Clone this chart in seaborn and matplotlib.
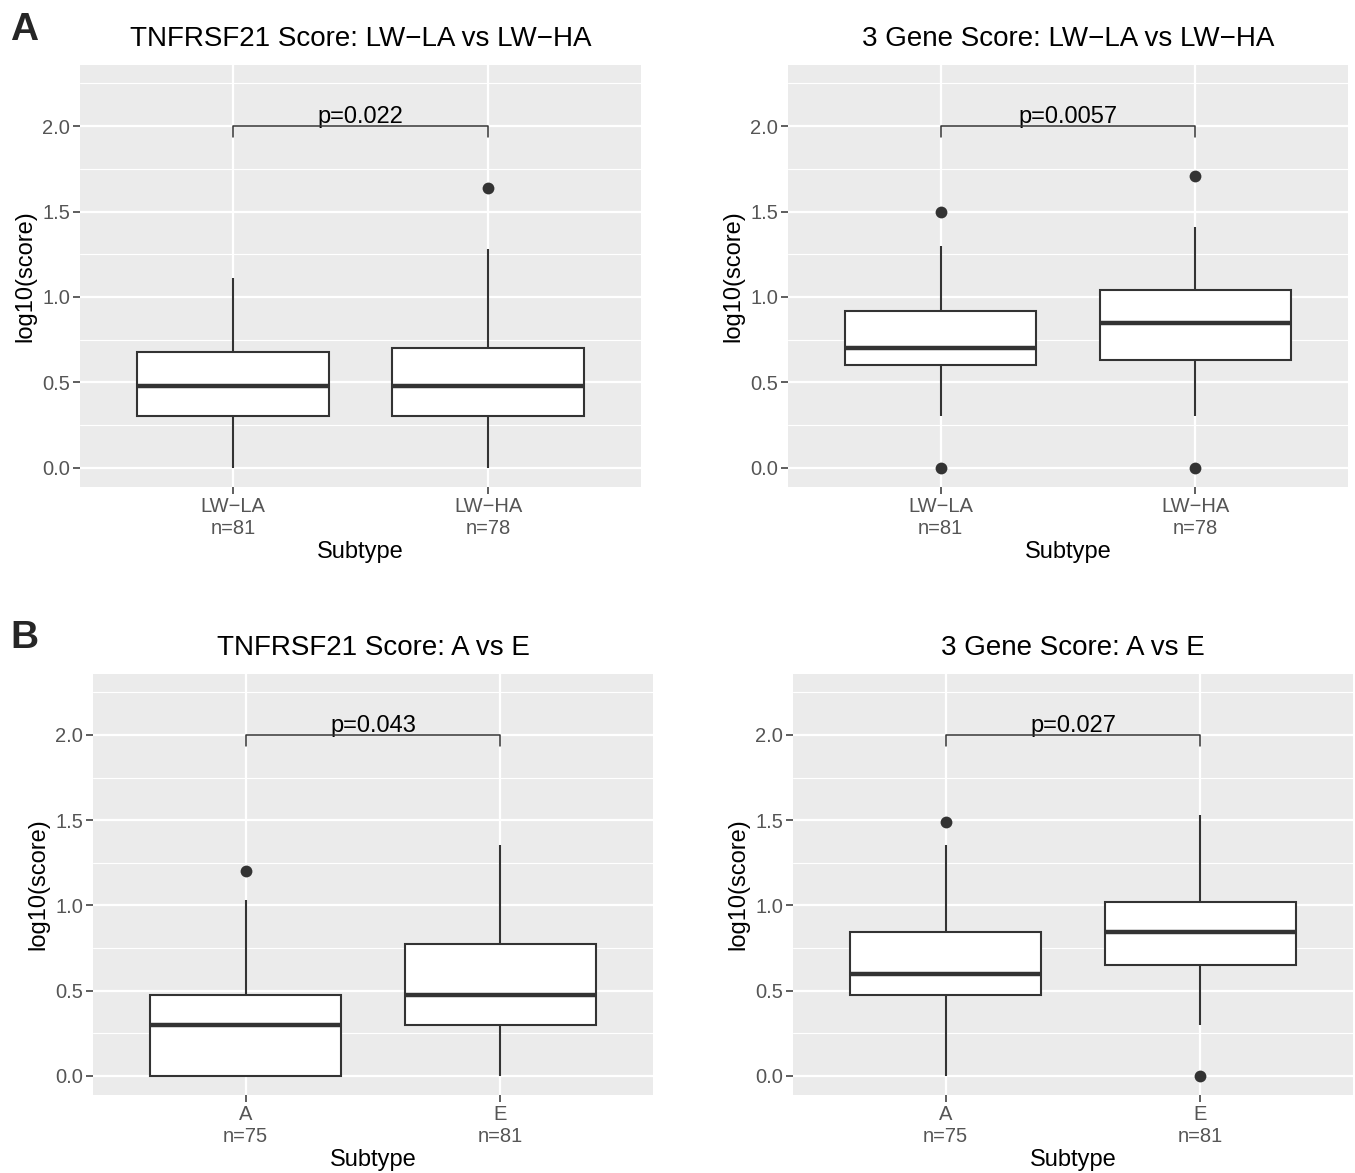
import numpy as np
import pandas as pd
import matplotlib
matplotlib.use("Agg")
import matplotlib.pyplot as plt
import seaborn as sns
from matplotlib.ticker import MultipleLocator

# ---------------- data ----------------
panel_titles = [
    "TNFRSF21 Score: LW\u2212LA vs LW\u2212HA",
    "3 Gene Score: LW\u2212LA vs LW\u2212HA",
    "TNFRSF21 Score: A vs E",
    "3 Gene Score: A vs E",
]
groups_A = ["LW\u2212LA", "LW\u2212HA"]
n_A = [81, 78]
groups_B = ["A", "E"]
n_B = [75, 81]
p_labels = ["p=0.022", "p=0.0057", "p=0.043", "p=0.027"]

# box summaries, one value per group (left, right)
tnf_lwa_whislo = [0.0, 0.0]
tnf_lwa_q1 = [0.30, 0.30]
tnf_lwa_med = [0.48, 0.48]
tnf_lwa_q3 = [0.675, 0.70]
tnf_lwa_whishi = [1.11, 1.28]
tnf_lwa_out = [[], [1.64]]

gene_lwa_whislo = [0.30, 0.30]
gene_lwa_q1 = [0.60, 0.63]
gene_lwa_med = [0.70, 0.845]
gene_lwa_q3 = [0.915, 1.04]
gene_lwa_whishi = [1.30, 1.41]
gene_lwa_out = [[1.50, 0.0], [1.71, 0.0]]

tnf_ae_whislo = [0.0, 0.0]
tnf_ae_q1 = [0.0, 0.30]
tnf_ae_med = [0.30, 0.475]
tnf_ae_q3 = [0.475, 0.775]
tnf_ae_whishi = [1.03, 1.355]
tnf_ae_out = [[1.20], []]

gene_ae_whislo = [0.0, 0.30]
gene_ae_q1 = [0.475, 0.65]
gene_ae_med = [0.60, 0.845]
gene_ae_q3 = [0.845, 1.02]
gene_ae_whishi = [1.355, 1.53]
gene_ae_out = [[1.49], [0.0]]

y_ticks = [0.0, 0.5, 1.0, 1.5, 2.0]
y_tick_labels = ["0.0", "0.5", "1.0", "1.5", "2.0"]

# ---------------- style ----------------
sns.set_theme(style="darkgrid")
plt.rcParams["font.family"] = ["Liberation Sans", "DejaVu Sans"]

W, H = 1355, 1173
fig = plt.figure(figsize=(W / 100, H / 100), dpi=100)
fig.patch.set_facecolor("white")

# axes boxes in pixels: (left, top, right, bottom)
boxes = [(80, 65, 641, 487), (788, 65, 1348, 487),
         (93, 674, 653, 1095), (793, 674, 1353, 1095)]

panels = [
    (groups_A, n_A, tnf_lwa_whislo, tnf_lwa_q1, tnf_lwa_med, tnf_lwa_q3, tnf_lwa_whishi, tnf_lwa_out),
    (groups_A, n_A, gene_lwa_whislo, gene_lwa_q1, gene_lwa_med, gene_lwa_q3, gene_lwa_whishi, gene_lwa_out),
    (groups_B, n_B, tnf_ae_whislo, tnf_ae_q1, tnf_ae_med, tnf_ae_q3, tnf_ae_whishi, tnf_ae_out),
    (groups_B, n_B, gene_ae_whislo, gene_ae_q1, gene_ae_med, gene_ae_q3, gene_ae_whishi, gene_ae_out),
]

DARK = "#333333"
TICKC = "#555555"

for i, (groups, ns, wlo, q1, med, q3, whi, outs) in enumerate(panels):
    l, t, r, b = boxes[i]
    ax = fig.add_axes([l / W, 1 - b / H, (r - l) / W, (b - t) / H])
    # five-number summary per group -> boxplot with whiskers at min/max
    rows = []
    for g, a, c, d, e, f in zip(groups, wlo, q1, med, q3, whi):
        for v in (a, c, d, e, f):
            rows.append({"Subtype": g, "value": v})
    df = pd.DataFrame(rows)
    sns.boxplot(data=df, x="Subtype", y="value", order=groups, whis=(0, 100),
                width=0.75, color="white", linecolor=DARK, linewidth=1.5,
                showcaps=False, showfliers=False, saturation=1,
                medianprops=dict(linewidth=3.2, color=DARK), ax=ax)
    orows = [{"Subtype": g, "value": v} for g, vals in zip(groups, outs) for v in vals]
    dfo = pd.DataFrame(orows, columns=["Subtype", "value"])
    sns.stripplot(data=dfo, x="Subtype", y="value", order=groups, jitter=False,
                  color=DARK, size=8.5, linewidth=0, ax=ax, zorder=5)

    ax.set_xlim(-0.6, 1.6)
    ax.set_ylim(-0.113, 2.358)
    ax.set_facecolor("#EBEBEB")
    for s in ax.spines.values():
        s.set_visible(False)
    ax.set_axisbelow(True)
    ax.set_yticks(y_ticks)
    ax.set_yticklabels(y_tick_labels)
    ax.yaxis.set_minor_locator(MultipleLocator(0.25))
    ax.grid(which="major", color="white", linewidth=1.6)
    ax.grid(which="minor", axis="y", color="white", linewidth=0.8)
    ax.set_xticks([0, 1])
    ax.set_xticklabels([f"{g}\nn={n}" for g, n in zip(groups, ns)], linespacing=1.25)
    ax.tick_params(which="major", length=5, width=1.1, color=DARK, labelcolor=TICKC,
                   labelsize=14.5, pad=2, left=True, bottom=True)
    ax.tick_params(which="minor", length=0)
    ax.set_xlabel("Subtype", fontsize=17, color="black", labelpad=2)
    ax.set_ylabel("log10(score)", fontsize=17, color="black", labelpad=4)
    ax.set_title(panel_titles[i], fontsize=20, color="black", pad=14)

    # significance bracket
    ax.plot([0, 0, 1, 1], [1.935, 2.0, 2.0, 1.935], color=DARK, linewidth=1.1, zorder=4)
    ax.text(0.5, 2.018, p_labels[i], ha="center", va="baseline", fontsize=17, color="black")

fig.text(10 / W, 1 - 12 / H, "A", fontsize=28, fontweight="bold", va="top", ha="left")
fig.text(10 / W, 1 - 620 / H, "B", fontsize=28, fontweight="bold", va="top", ha="left")

fig.savefig("out.png", dpi=100, facecolor="white")
